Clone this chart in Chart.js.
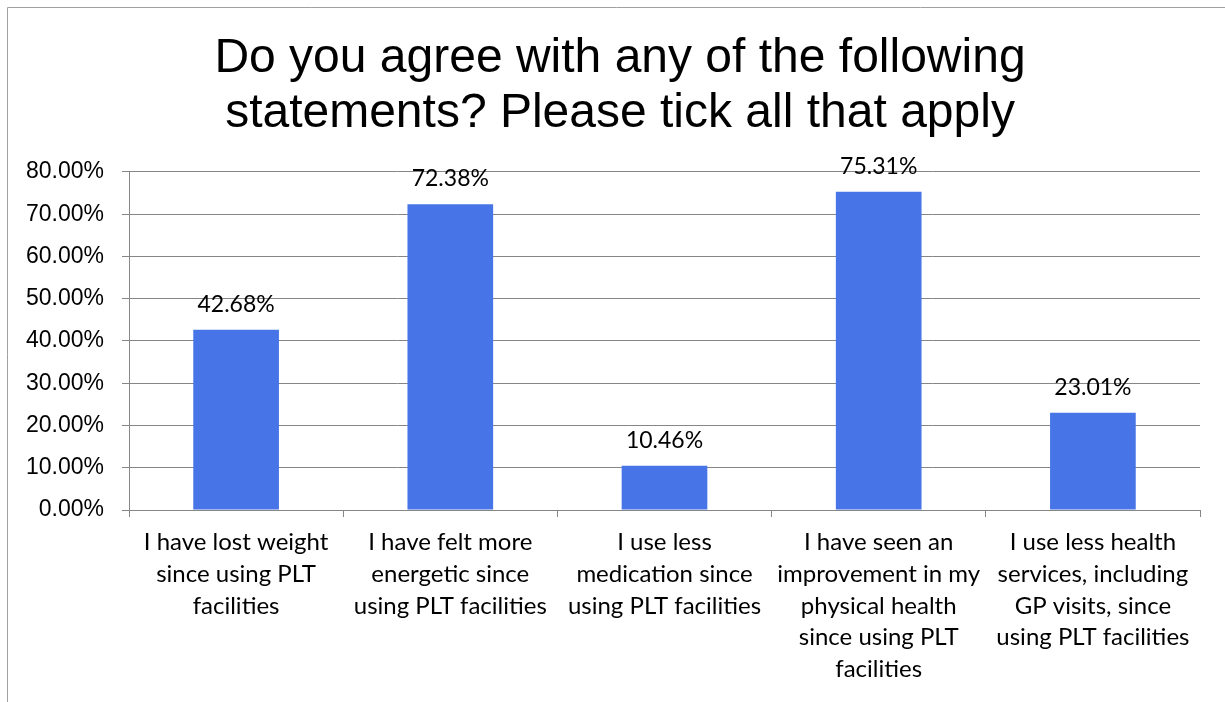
<!DOCTYPE html>
<html>
<head>
<meta charset="utf-8">
<script src="https://cdn.jsdelivr.net/npm/chart.js@4.4.1/dist/chart.umd.min.js"></script>
<style>
	body { margin: 0; background: #fff; }
	#mycanvas { display: block; }
</style>
</head>
<body>
<canvas id="mycanvas" width="1225" height="702"></canvas>
<script>
// chart data
var titleLines = ["Do you agree with any of the following", "statements? Please tick all that apply"];
var categories = [
	["I have lost weight", "since using PLT", "facilities"],
	["I have felt more", "energetic since", "using PLT facilities"],
	["I use less", "medication since", "using PLT facilities"],
	["I have seen an", "improvement in my", "physical health", "since using PLT", "facilities"],
	["I use less health", "services, including", "GP visits, since", "using PLT facilities"]
];
var percentValues = [42.68, 72.38, 10.46, 75.31, 23.01];
var yTicks = [0, 10, 20, 30, 40, 50, 60, 70, 80];

var barColor = "#4775e7";
var lineColor = "#868686";
var labelFont = "Lato";

// white background + the thin frame round the chart
var framePlugin = {
	id: "frame",
	beforeDraw: function(chart) {
		var ctx = chart.ctx;
		ctx.save();
		ctx.fillStyle = "#fff";
		ctx.fillRect(0, 0, chart.width, chart.height);
		ctx.strokeStyle = "#a0a0a0";
		ctx.lineWidth = 1;
		ctx.beginPath();
		ctx.moveTo(7.5, chart.height);
		ctx.lineTo(7.5, 7.5);
		ctx.lineTo(chart.width, 7.5);
		ctx.stroke();
		ctx.restore();
	}
};

// value labels above each bar
var valueLabels = {
	id: "valueLabels",
	afterDatasetsDraw: function(chart) {
		var ctx = chart.ctx;
		var meta = chart.getDatasetMeta(0);
		ctx.save();
		ctx.fillStyle = "#000";
		ctx.font = "23px " + labelFont;
		ctx.textAlign = "center";
		ctx.textBaseline = "alphabetic";
		meta.data.forEach(function(bar, i) {
			ctx.fillText(percentValues[i].toFixed(2) + "%", bar.x, bar.y - 18);
		});
		ctx.restore();
	}
};

var ctx = document.getElementById("mycanvas");

var BarGraph = new Chart(ctx, {
	type: "bar",
	data: {
		labels: categories,
		datasets: [
			{
				label: "responses",
				data: percentValues,
				backgroundColor: barColor,
				borderWidth: 0,
				categoryPercentage: 1,
				barPercentage: 0.4
			}
		]
	},
	options: {
		responsive: false,
		animation: false,
		devicePixelRatio: 1,
		layout: {
			padding: { left: 15, right: 0, top: 0, bottom: 0 }
		},
		plugins: {
			legend: { display: false },
			tooltip: { enabled: false },
			title: {
				display: true,
				text: titleLines,
				color: "#000",
				font: { family: "Liberation Sans", size: 48, weight: "normal", lineHeight: 1.13 },
				padding: { top: 32, bottom: 31.5 }
			}
		},
		scales: {
			x: {
				grid: {
					drawOnChartArea: false,
					offset: true,
					tickLength: 7,
					color: lineColor
				},
				border: { color: lineColor },
				ticks: {
					autoSkip: false,
					maxRotation: 0,
					minRotation: 0,
					padding: 9,
					color: "#000",
					font: { family: labelFont, size: 24, lineHeight: 1.33 }
				},
				afterFit: function(scale) { scale.height = 192; }
			},
			y: {
				min: 0,
				max: 80,
				afterBuildTicks: function(scale) {
					scale.ticks = yTicks.map(function(v) { return { value: v }; });
				},
				grid: {
					tickLength: 7,
					color: lineColor
				},
				border: { color: lineColor },
				ticks: {
					padding: 18,
					color: "#000",
					font: { family: "Liberation Sans", size: 23 },
					callback: function(value) { return value.toFixed(2) + "%"; }
				},
				afterFit: function(scale) { scale.width = 114; }
			},
			// empty right-hand axis, only keeps the gap on the right
			y2: {
				position: "right",
				grid: { display: false },
				border: { display: false },
				ticks: { display: false },
				afterFit: function(scale) { scale.width = 25; }
			}
		}
	},
	plugins: [framePlugin, valueLabels]
});
</script>
</body>
</html>
